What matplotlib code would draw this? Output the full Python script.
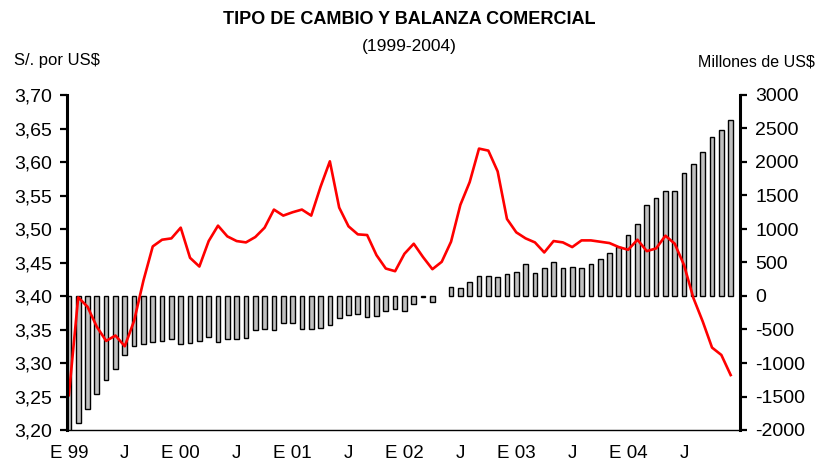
import numpy as np
import matplotlib
matplotlib.use("Agg")
import matplotlib.pyplot as plt

# Tipo de cambio (S/. por US$), mensual ene-1999 a dic-2004
tipo_cambio = [3.252, 3.398, 3.384, 3.354, 3.333, 3.341, 3.325, 3.363, 3.423, 3.474, 3.484, 3.486,
               3.502, 3.457, 3.444, 3.482, 3.505, 3.489, 3.482, 3.480, 3.488, 3.502, 3.529, 3.520,
               3.525, 3.529, 3.520, 3.563, 3.601, 3.532, 3.504, 3.492, 3.491, 3.461, 3.441, 3.437,
               3.463, 3.478, 3.458, 3.440, 3.451, 3.481, 3.536, 3.570, 3.620, 3.617, 3.586, 3.515,
               3.495, 3.486, 3.480, 3.465, 3.482, 3.480, 3.473, 3.483, 3.483, 3.481, 3.479, 3.473,
               3.469, 3.484, 3.467, 3.471, 3.490, 3.478, 3.446, 3.397, 3.362, 3.323, 3.312, 3.282]

# Balanza comercial (millones de US$)
balanza = [-2050, -1900, -1690, -1460, -1250, -1090, -880, -740, -715, -690, -670, -645,
           -715, -697, -667, -607, -687, -642, -642, -627, -512, -493, -512, -398,
           -398, -493, -493, -483, -438, -333, -289, -269, -308, -294, -219, -199,
           -219, -124, -15, -90, np.nan, 139, 115, 214, 303, 303, 289, 323,
           353, 473, 348, 413, 503, 413, 438, 413, 473, 547, 637, 736,
           915, 1075, 1353, 1468, 1562, 1562, 1841, 1965, 2149, 2368, 2478, 2627]

x_labels = ["E 99", "J", "E 00", "J", "E 01", "J", "E 02", "J", "E 03", "J", "E 04", "J"]
left_ticks = [3.20, 3.25, 3.30, 3.35, 3.40, 3.45, 3.50, 3.55, 3.60, 3.65, 3.70]
right_ticks = [-2000, -1500, -1000, -500, 0, 500, 1000, 1500, 2000, 2500, 3000]

meses = np.arange(len(tipo_cambio))
fuente = "Liberation Sans"

fig = plt.figure(figsize=(8.16, 4.61), dpi=100)
ax = fig.add_axes([67/816, 1-430/461, 673/816, 335/461])
ax2 = ax.twinx()

ax2.bar(meses, balanza, width=0.5, color="#c0c0c0", edgecolor="black", linewidth=1.0)
ax2.set_ylim(-2000, 3000)

ax.plot(meses, tipo_cambio, color="red", linewidth=1.9)
ax.set_ylim(3.20, 3.70)
ax.set_xlim(-0.2, 72.0)

# linea por encima de las barras
ax.set_zorder(ax2.get_zorder() + 1)
ax.patch.set_visible(False)

ax.set_yticks(left_ticks)
ax.set_yticklabels([f"{v:.2f}".replace(".", ",") for v in left_ticks], fontfamily=fuente, fontsize=14)
ax2.set_yticks(right_ticks)
ax2.set_yticklabels([str(v) for v in right_ticks], fontfamily=fuente, fontsize=14)
ax.set_xticks(meses[::6])
ax.set_xticklabels(x_labels, fontfamily=fuente, fontsize=13.5)

ax.tick_params(axis="y", direction="out", length=5, width=1.6, pad=6)
ax2.tick_params(axis="y", direction="out", length=5, width=1.6, pad=6)
ax.tick_params(axis="x", length=0, pad=11)

for a in (ax, ax2):
    a.spines["top"].set_visible(False)
ax.spines["right"].set_visible(False)
ax2.spines["left"].set_visible(False)
ax2.spines["bottom"].set_visible(False)
ax.spines["left"].set_linewidth(2.2)
ax2.spines["right"].set_linewidth(2.2)
ax.spines["bottom"].set_linewidth(1.0)

fig.text(409/816, 1-19/461, "TIPO DE CAMBIO Y BALANZA COMERCIAL", ha="center", va="center",
         fontsize=13, fontweight="bold", family=fuente)
fig.text(409/816, 1-47/461, "(1999-2004)", ha="center", va="center", fontsize=12.5, family=fuente)
fig.text(14/816, 1-60/461, "S/. por US$", ha="left", va="center", fontsize=12, family=fuente)
fig.text(815/816, 1-62/461, "Millones de US$", ha="right", va="center", fontsize=11.5, family=fuente)

fig.savefig("out.png", dpi=100)
